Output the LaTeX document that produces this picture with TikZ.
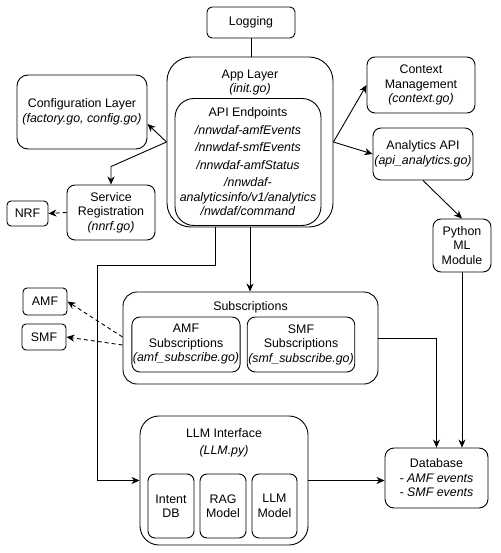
\documentclass[tikz,border=0pt]{standalone}
\usepackage{fontspec}
\setmainfont{Liberation Sans}
\usetikzlibrary{arrows.meta,positioning,calc}

\begin{document}
\begin{tikzpicture}[
  x=1pt, y=-1pt,
  font=\fontsize{12.4}{14.5}\selectfont,
  blk/.style={rectangle, draw=black, line width=0.9pt, fill=white, align=center,
              inner sep=1pt},
  lbl/.style={align=center, inner sep=0pt},
  arr/.style={-{Stealth[length=8pt, width=7pt, inset=2.5pt]}, line width=0.9pt},
  darr/.style={arr, dash pattern=on 4pt off 3pt},
  plain/.style={line width=0.9pt},
]
\useasboundingbox (0,0) rectangle (500,553);

% ---------- top row
\node[blk, rounded corners=5pt, minimum width=88pt, minimum height=31pt] (logging) at (251,22.5) {Logging};
\node[blk, rounded corners=24pt, minimum width=166pt, minimum height=170pt] (app) at (250,142) {};
\node[lbl] (applbl) at (250,82.5) {App Layer\\\textit{(init.go)}};
\node[blk, rounded corners=19pt, minimum width=146pt, minimum height=127pt] (api) at (248,162)
  {API Endpoints\\[3pt]\textit{/nnwdaf-amfEvents}\\[3pt]\textit{/nnwdaf-smfEvents}\\[3pt]%
   \textit{/nnwdaf-amfStatus}\\[3pt]\textit{/nnwdaf-}\\\textit{analyticsinfo/v1/analytics}\\\textit{/nwdaf/command}};

% ---------- left side
\node[blk, rounded corners=11pt, minimum width=130pt, minimum height=74pt] (config) at (82,112)
  {Configuration Layer\\\textit{(factory.go, config.go)}};
\node[blk, rounded corners=8pt, minimum width=88pt, minimum height=55pt] (sreg) at (111,212.5)
  {Service\\Registration\\\textit{(nnrf.go)}};
\node[blk, rounded corners=4pt, minimum width=41pt, minimum height=25pt] (nrf) at (27.5,213.5) {NRF};
\node[blk, rounded corners=4pt, minimum width=44pt, minimum height=27pt] (amf) at (45,301.5) {AMF};
\node[blk, rounded corners=4pt, minimum width=44pt, minimum height=26pt] (smf) at (44,337) {SMF};

% ---------- right side
\node[blk, rounded corners=8pt, minimum width=108pt, minimum height=56pt] (context) at (421,85)
  {Context\\Management\\\textit{(context.go)}};
\node[blk, rounded corners=8pt, minimum width=100pt, minimum height=52pt] (analytics) at (423,154)
  {Analytics API\\\textit{(api\_analytics.go)}};
\node[blk, rounded corners=8pt, minimum width=58pt, minimum height=53pt] (python) at (462,245.5)
  {Python\\ML\\Module};
\node[blk, rounded corners=9pt, minimum width=103pt, minimum height=60pt] (db) at (436.5,478)
  {Database\\\textit{- AMF events}\\\textit{- SMF events}};

% ---------- subscriptions
\node[blk, rounded corners=14pt, minimum width=255pt, minimum height=92pt] (subs) at (250.5,338) {};
\node[lbl] (subslbl) at (250.5,307) {Subscriptions};
\node[blk, rounded corners=8pt, minimum width=102pt, minimum height=55pt] (amfsub) at (186,344.5)
  {AMF\\Subscriptions\\\textit{(amf\_subscribe.go)}};
\node[blk, rounded corners=8pt, minimum width=100pt, minimum height=55pt] (smfsub) at (301,344.5)
  {SMF\\Subscriptions\\\textit{(smf\_subscribe.go)}};

% ---------- LLM interface
\node[blk, rounded corners=19pt, minimum width=168pt, minimum height=129pt] (llm) at (224,480.5) {};
\node[lbl] (llmlbl) at (224,443) {LLM Interface\\[3pt]\textit{(LLM.py)}};
\node[blk, rounded corners=7pt, minimum width=46pt, minimum height=64pt] (intent) at (171,506) {Intent\\DB};
\node[blk, rounded corners=7pt, minimum width=46pt, minimum height=64pt] (rag) at (223,506) {RAG\\Model};
\node[blk, rounded corners=7pt, minimum width=45pt, minimum height=64pt] (llmmodel) at (274.5,506) {LLM\\Model};

% ---------- connectors
\draw[plain] (logging.south) -- (logging.south |- app.north);
\draw[arr] (app.west) -- ([yshift=-12pt]config.east);
\draw[arr] (app.west) -- ([yshift=18pt]sreg.north) -- (sreg.north);
\draw[darr] (sreg.west) -- (nrf.east);
\draw[arr] (app.east) -- (context.west);
\draw[arr] (app.east) -- (analytics.west);
\draw[arr] (analytics.south) -- (python.north);
\draw[arr] (python.south) -- (python.south |- db.north);
\draw[arr] (app.south) -- (app.south |- subs.north);
\coordinate (bend) at (97,265);
\draw[arr] ([xshift=-35pt]app.south) |- (bend) |- (llm.west);
\draw[darr] ([yshift=1pt]subs.west) -- (amf.east);
\draw[darr] ([yshift=-7pt]subs.west) -- (smf.east);
\draw[arr] (subs.east) -| (db.north);
\draw[arr] (llm.east) -- (llm.east -| db.west);
\end{tikzpicture}
\end{document}
